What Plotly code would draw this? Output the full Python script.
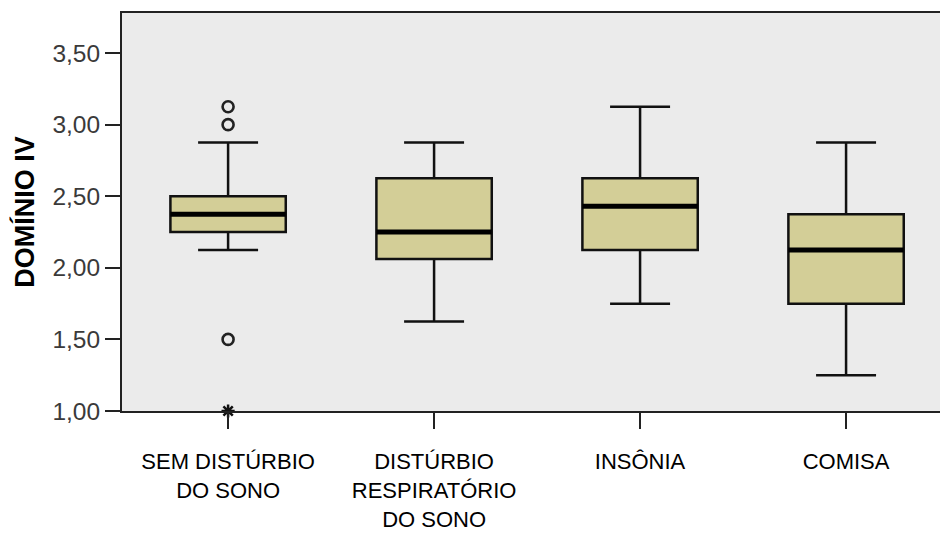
import plotly.graph_objects as go

categories = ["SEM DISTÚRBIO<br>DO SONO", "DISTÚRBIO<br>RESPIRATÓRIO<br>DO SONO", "INSÔNIA", "COMISA"]
q1 = [2.25, 2.0625, 2.125, 1.75]
medians = [2.375, 2.25, 2.43, 2.125]
q3 = [2.5, 2.625, 2.625, 2.375]
lower_whisker = [2.125, 1.625, 1.75, 1.25]
upper_whisker = [2.875, 2.875, 3.125, 2.875]
outlier_cat = [0, 0, 0]
outlier_val = [3.125, 3.0, 1.5]
extreme_cat = [0]
extreme_val = [1.0]
y_ticks = [1.0, 1.5, 2.0, 2.5, 3.0, 3.5]
y_ticklabels = ["1,00", "1,50", "2,00", "2,50", "3,00", "3,50"]

positions = list(range(len(categories)))
BOX_W = 0.56
FONT = "Liberation Sans, Arial, sans-serif"

fig = go.Figure()
fig.add_trace(go.Box(
    x=positions, q1=q1, median=medians, q3=q3,
    lowerfence=lower_whisker, upperfence=upper_whisker,
    width=BOX_W, whiskerwidth=0.52,
    fillcolor="#D3CE97", line=dict(color="#111111", width=2.5),
    boxpoints=False, showlegend=False, hoverinfo="skip",
))
# thick median lines
for i, m in zip(positions, medians):
    fig.add_trace(go.Scatter(
        x=[i - BOX_W / 2, i + BOX_W / 2], y=[m, m], mode="lines",
        line=dict(color="#000000", width=5), showlegend=False, hoverinfo="skip",
    ))
fig.add_trace(go.Scatter(
    x=outlier_cat, y=outlier_val, mode="markers",
    marker=dict(symbol="circle-open", size=11, color="#222222", line=dict(width=2.6)),
    showlegend=False, hoverinfo="skip", cliponaxis=False,
))
fig.add_trace(go.Scatter(
    x=extreme_cat, y=extreme_val, mode="markers",
    marker=dict(symbol="asterisk-open", size=11, color="#111111", line=dict(width=2.5)),
    showlegend=False, hoverinfo="skip", cliponaxis=False,
))

fig.update_layout(
    width=940, height=533,
    margin=dict(l=122, r=0, t=13, b=122, autoexpand=False),
    paper_bgcolor="white", plot_bgcolor="#EBEBEB",
    font=dict(family=FONT, color="#111111"),
    xaxis=dict(
        range=[-0.515, 3.456], tickvals=positions, ticktext=categories,
        showgrid=False, zeroline=False, automargin=False,
        showline=True, linecolor="#222222", linewidth=2, mirror=True,
        ticks="outside", ticklen=16, tickwidth=2, tickcolor="#222222",
        ticklabelstandoff=14,
        tickfont=dict(size=22, color="#000000", family=FONT),
    ),
    yaxis=dict(
        range=[1.0, 3.78], tickvals=y_ticks, ticktext=y_ticklabels,
        showgrid=False, zeroline=False, automargin=False,
        showline=True, linecolor="#222222", linewidth=2,
        ticks="outside", ticklen=15, tickwidth=2, tickcolor="#222222",
        tickfont=dict(size=24.5, color="#3a3a3a", family=FONT),
        title=dict(text="<b>DOMÍNIO IV</b>", font=dict(size=27, color="#000000", family=FONT), standoff=10),
    ),
)

fig.write_html("out.html", config={"displayModeBar": False},
               post_script="document.body.style.margin='0';")
